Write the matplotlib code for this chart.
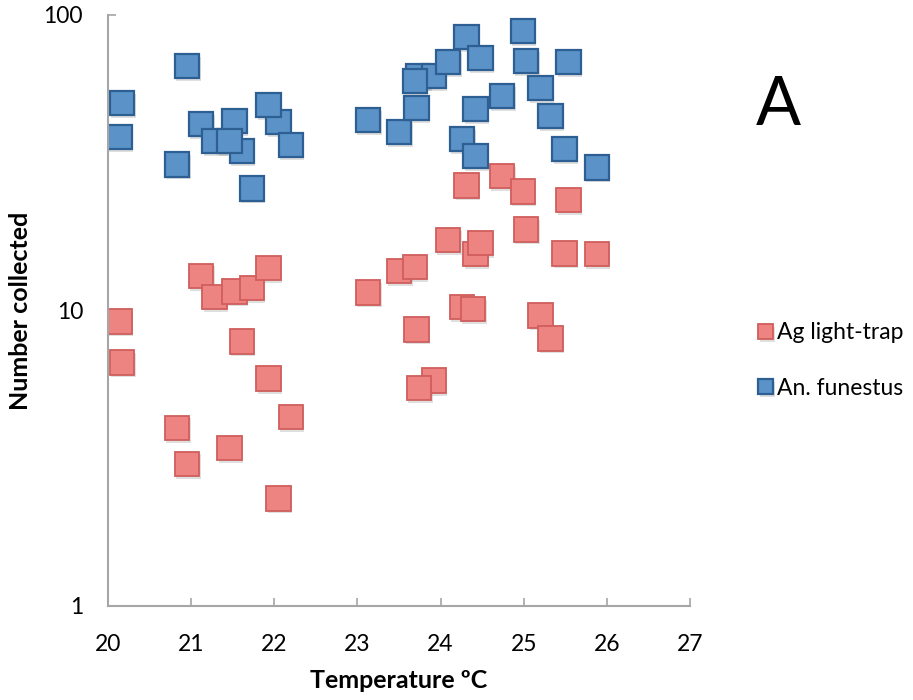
import matplotlib.pyplot as plt
import matplotlib.patheffects as pe

plt.rcParams['font.family'] = ['Lato', 'DejaVu Sans']

# An. funestus (blue)
fun_temp = [20.17, 20.14, 20.95, 20.83, 21.12, 21.28, 21.52, 21.61, 21.46, 22.05, 21.93,
            22.20, 21.73, 23.13, 23.50, 23.71, 23.73, 23.92, 23.69, 24.09, 24.31, 24.48,
            24.99, 25.03, 25.54, 25.20, 24.74, 24.42, 25.32, 24.26, 24.42, 25.49, 25.88]
fun_count = [50.3, 38.6, 67.2, 31.2, 42.7, 37.4, 43.7, 34.6, 37.4, 43.4, 49.5,
             36.3, 25.9, 44.1, 40.1, 48.4, 62.1, 62.1, 59.7, 69.3, 84.2, 71.5,
             88.3, 69.8, 69.3, 56.6, 53.1, 48.0, 45.5, 38.0, 33.3, 35.1, 30.5]

# Ag light-trap (red)
ag_temp = [21.12, 21.28, 21.52, 21.73, 21.93, 23.13, 20.14, 20.17, 21.61, 21.93, 22.20,
           20.83, 20.95, 21.46, 22.05, 24.31, 24.74, 24.99, 25.54, 25.03, 24.09, 24.42,
           24.48, 25.49, 25.88, 23.50, 23.69, 24.26, 24.39, 25.20, 25.32, 23.71, 23.92, 23.74]
ag_count = [13.1, 11.1, 11.6, 11.9, 13.9, 11.5, 9.18, 6.67, 7.85, 5.88, 4.37,
            4.01, 3.03, 3.43, 2.31, 26.5, 28.5, 25.3, 23.6, 18.8, 17.3, 15.5,
            16.9, 15.6, 15.5, 13.6, 14.0, 10.3, 10.1, 9.62, 8.04, 8.62, 5.79, 5.48]

x_ticks = [20, 21, 22, 23, 24, 25, 26, 27]
y_ticks = [1, 10, 100]

fig = plt.figure(figsize=(9.13, 7.0), dpi=100)
ax = fig.add_axes([0.1183, 0.1343, 0.6375, 0.8443])

sombra = [pe.SimplePatchShadow(offset=(1, -2), shadow_rgbFace='#808080', alpha=0.25), pe.Normal()]

ax.plot(ag_temp, ag_count, ls='none', marker='s', ms=17.5, mfc='#EE8482', mec='#CF5E5C',
        mew=1.3, label='Ag light-trap', path_effects=sombra)
ax.plot(fun_temp, fun_count, ls='none', marker='s', ms=17.5, mfc='#5B92C8', mec='#2D5F93',
        mew=1.6, label='An. funestus', path_effects=sombra)

ax.set_yscale('log')
ax.set_xlim(20, 27)
ax.set_ylim(1, 100)
ax.set_xticks(x_ticks)
ax.set_xticklabels([str(t) for t in x_ticks])
ax.set_yticks(y_ticks)
ax.set_yticklabels(['1', '10', '100'])
ax.minorticks_off()

for lado in ['top', 'right']:
    ax.spines[lado].set_visible(False)
for lado in ['left', 'bottom']:
    ax.spines[lado].set_color('#A6A6A6')
    ax.spines[lado].set_linewidth(1.5)

ax.tick_params(axis='both', direction='in', length=6, width=1.2, color='#A6A6A6',
               labelsize=16.5, labelcolor='black')
ax.tick_params(axis='x', pad=20)
ax.tick_params(axis='y', pad=18)

ax.set_xlabel('Temperature ºC', fontsize=18, fontweight='bold', labelpad=10)
ax.set_ylabel('Number collected', fontsize=18, fontweight='bold', labelpad=8)

fig.text(0.853, 0.848, 'A', fontsize=48, ha='center', va='center')

fig.legend(loc='center left', bbox_to_anchor=(0.815, 0.485), frameon=False,
           fontsize=16.5, markerscale=0.62, handletextpad=0.05, handlelength=0.9,
           labelspacing=1.5, borderpad=0)

fig.savefig('out.png', dpi=100)
